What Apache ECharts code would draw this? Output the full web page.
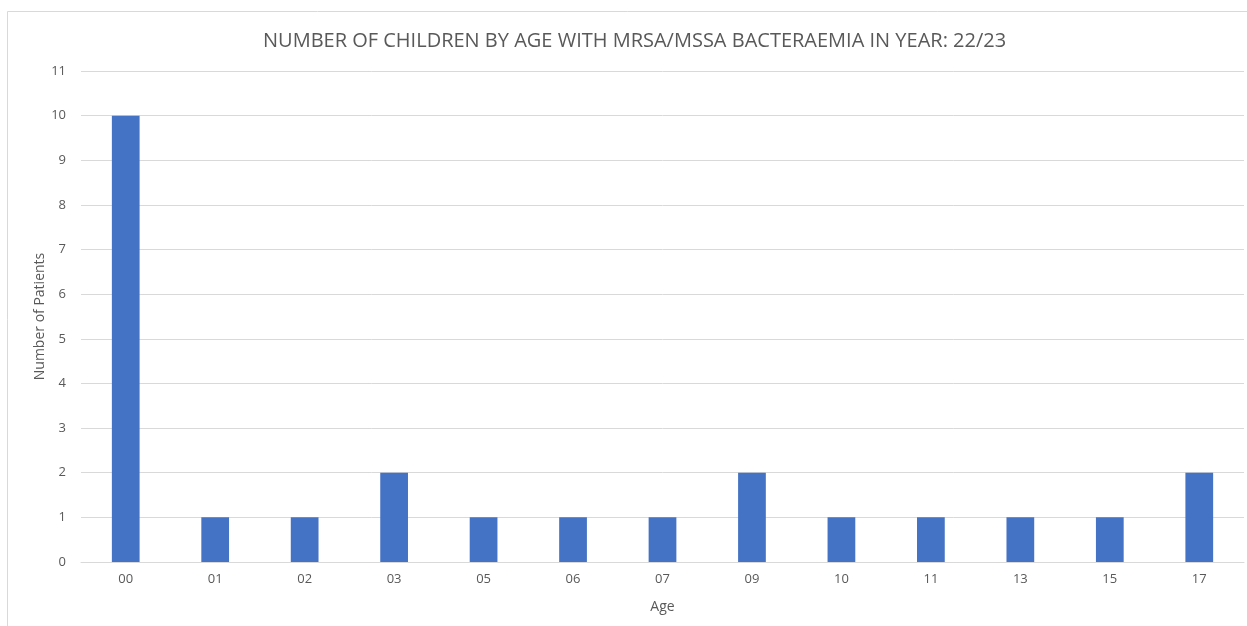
<!DOCTYPE html>
<html>
<head>
<meta charset="utf-8">
<script src="https://cdn.jsdelivr.net/npm/echarts@6/dist/echarts.min.js"></script>
<style>
  html, body { margin: 0; padding: 0; background: #ffffff; }
  #chart { width: 1247px; height: 626px; }
</style>
</head>
<body>
<div id="chart"></div>
<script>
// Age groups and patient counts
const ages = ['00', '01', '02', '03', '05', '06', '07', '09', '10', '11', '13', '15', '17'];
const patients = [10, 1, 1, 2, 1, 1, 1, 2, 1, 1, 1, 1, 2];
const chartTitle = 'NUMBER OF CHILDREN BY AGE WITH MRSA/MSSA BACTERAEMIA IN YEAR: 22/23';

const textColor = '#595959';
const fontFamily = 'Open Sans, Liberation Sans, sans-serif';

const chart = echarts.init(document.getElementById('chart'), null, { renderer: 'canvas' });
chart.setOption({
  animation: false,
  backgroundColor: '#ffffff',
  title: {
    text: chartTitle,
    left: 258,
    top: 26,
    textStyle: { color: textColor, fontSize: 20, fontWeight: 'normal', fontFamily: fontFamily }
  },
  graphic: [{
    type: 'rect',
    shape: { x: 7.5, y: 11.5, width: 1260, height: 640 },
    style: { fill: 'none', stroke: '#d9d9d9', lineWidth: 1 },
    silent: true
  }],
  grid: { left: 81, right: 3, top: 71, bottom: 64, containLabel: false },
  xAxis: {
    type: 'category',
    data: ages,
    name: 'Age',
    nameLocation: 'middle',
    nameGap: 38,
    nameTextStyle: { color: textColor, fontSize: 14, fontFamily: fontFamily },
    axisLine: { lineStyle: { color: '#d9d9d9', width: 1 } },
    axisTick: { show: false },
    axisLabel: { color: textColor, fontSize: 13, margin: 11, fontFamily: fontFamily }
  },
  yAxis: {
    type: 'value',
    min: 0,
    max: 11,
    interval: 1,
    name: 'Number of Patients',
    nameLocation: 'middle',
    nameRotate: 90,
    nameGap: 34,
    nameMoveOverlap: false,
    nameTextStyle: { color: textColor, fontSize: 14, fontFamily: fontFamily },
    axisLine: { show: false },
    axisTick: { show: false },
    axisLabel: { color: textColor, fontSize: 13, margin: 15, fontFamily: fontFamily },
    splitLine: { lineStyle: { color: '#d9d9d9', width: 1 } }
  },
  series: [{
    type: 'bar',
    data: patients,
    barWidth: '31%',
    itemStyle: { color: '#4472c4' }
  }]
});
</script>
</body>
</html>
